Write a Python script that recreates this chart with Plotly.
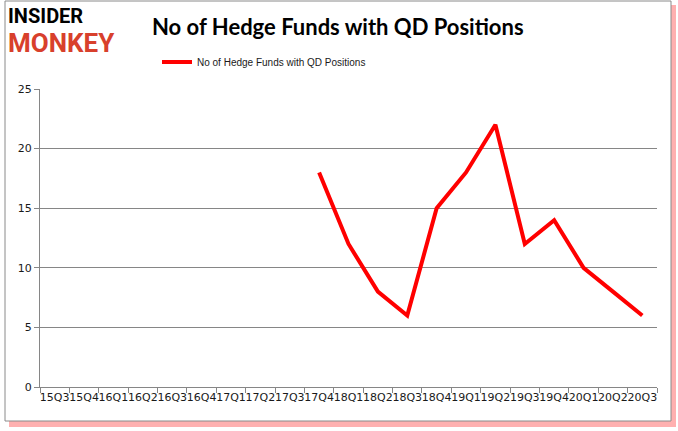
import plotly.graph_objects as go

quarters = ["15Q3", "15Q4", "16Q1", "16Q2", "16Q3", "16Q4", "17Q1", "17Q2", "17Q3",
            "17Q4", "18Q1", "18Q2", "18Q3", "18Q4", "19Q1", "19Q2", "19Q3", "19Q4",
            "20Q1", "20Q2", "20Q3"]
hedge_funds = [None, None, None, None, None, None, None, None, None,
               18, 12, 8, 6, 15, 18, 22, 12, 14, 10, 8, 6]
series_name = "No of Hedge Funds with QD Positions"
y_ticks = [0, 5, 10, 15, 20, 25]

W, H = 678, 431
ML, MR, MT, MB = 40, 21, 89, 44
PW, PH = W - ML - MR, H - MT - MB

fig = go.Figure()
fig.add_trace(go.Scatter(
    x=quarters, y=hedge_funds, mode="lines", name=series_name,
    line=dict(color="#ff0000", width=4), connectgaps=False,
))

def px_x(v):
    return (v - ML) / PW

def px_y(v):
    return (H - MB - v) / PH

shapes = [
    dict(type="rect", xref="paper", yref="paper", x0=px_x(9), x1=px_x(676), y0=px_y(427), y1=px_y(5),
         line=dict(width=0), fillcolor="rgba(255,80,80,0.45)", layer="below"),
    dict(type="rect", xref="paper", yref="paper", x0=px_x(5), x1=px_x(671), y0=px_y(421), y1=px_y(1),
         line=dict(color="#8a8a8a", width=1), fillcolor="white", layer="below"),
]

fig.update_layout(
    width=W, height=H,
    paper_bgcolor="rgba(0,0,0,0)", plot_bgcolor="rgba(0,0,0,0)",
    margin=dict(l=ML, r=MR, t=MT, b=MB, autoexpand=False),
    shapes=shapes,
    showlegend=True,
    legend=dict(orientation="h", x=px_x(157), y=px_y(62), xanchor="left", yanchor="middle",
                xref="paper", yref="paper",
                font=dict(family="Liberation Sans", size=10, color="#1a1a1a"),
                itemwidth=30, bgcolor="rgba(0,0,0,0)"),
    xaxis=dict(type="category", categoryorder="array", categoryarray=quarters,
               tickson="boundaries", ticks="outside", ticklen=5, tickcolor="#868686",
               showline=True, linecolor="#868686", linewidth=1, showgrid=False,
               tickfont=dict(family="DejaVu Sans", size=11, color="#1a1a1a"),
               tickangle=0, range=[-0.5, len(quarters) - 0.5]),
    yaxis=dict(range=[0, 25], tickvals=y_ticks, ticks="outside", ticklen=5, tickcolor="#868686",
               showline=True, linecolor="#868686", linewidth=1,
               showgrid=True, gridcolor="#868686", gridwidth=1, zeroline=False,
               tickfont=dict(family="DejaVu Sans", size=11, color="#1a1a1a")),
    annotations=[
        dict(text="<b>No of Hedge Funds with QD Positions</b>", xref="paper", yref="paper",
             x=px_x(338), y=px_y(27), xanchor="center", yanchor="middle", showarrow=False,
             font=dict(family="Lato", size=22, color="black")),
        dict(text="<b>INSIDER</b>", xref="paper", yref="paper",
             x=px_x(6), y=px_y(16), xanchor="left", yanchor="middle", showarrow=False,
             font=dict(family="Roboto", size=20, color="black")),
        dict(text="<b>MONKEY</b>", xref="paper", yref="paper",
             x=px_x(6), y=px_y(43), xanchor="left", yanchor="middle", showarrow=False,
             font=dict(family="Roboto", size=26, color="#d8402c")),
    ],
)
fig.write_html("out.html", config={"displayModeBar": False},
               post_script="document.body.style.margin='0px';")
